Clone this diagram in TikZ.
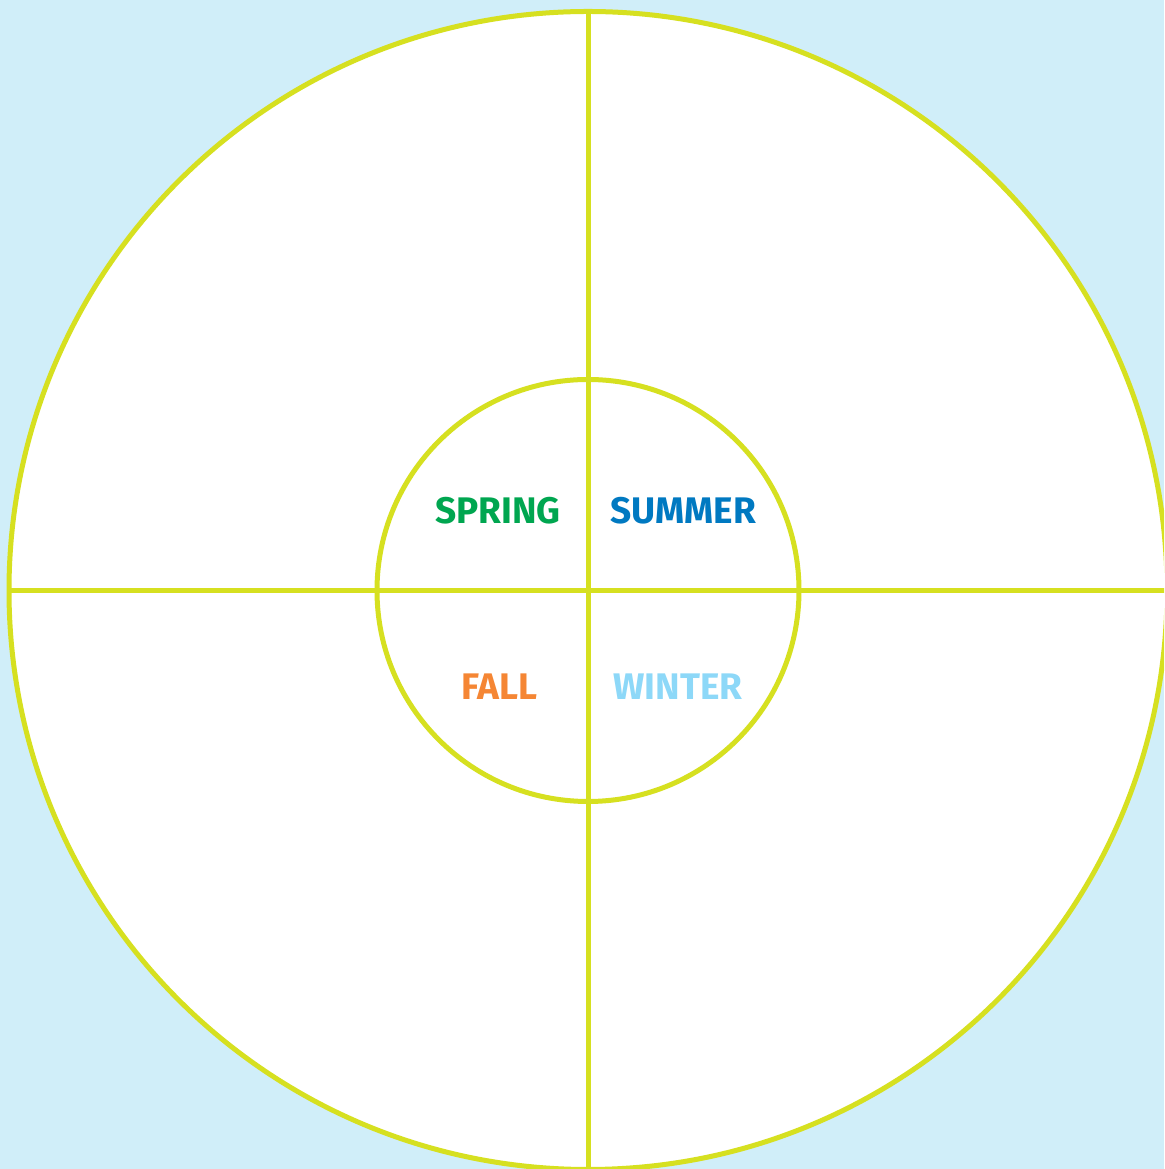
\documentclass[tikz,border=0pt]{standalone}
\usepackage{fontspec}
\setmainfont{Fira Sans}
\definecolor{bgblue}{RGB}{208,238,249}
\definecolor{ringline}{RGB}{214,224,32}
\definecolor{springc}{RGB}{0,166,80}
\definecolor{summerc}{RGB}{0,121,193}
\definecolor{fallc}{RGB}{245,134,52}
\definecolor{winterc}{RGB}{141,216,248}
\begin{document}
\begin{tikzpicture}[x=1pt,y=1pt,
  ring/.style={draw=ringline,line width=5pt},
  season/.style={font=\fontsize{37}{40}\selectfont\bfseries,inner sep=0pt,anchor=base}]
\useasboundingbox (0,0) rectangle (1164,1169);
\fill[bgblue] (0,0) rectangle (1164,1169);
\clip (0,0) rectangle (1164,1169);
\coordinate (c) at (588,578.5);
\fill[white] (c) circle (579);
\coordinate (top) at (588,1157.5);
\coordinate (bot) at (588,0);
\coordinate (lft) at (9,578.5);
\coordinate (rgt) at (1170,578.5);
\draw[ring] (top) -- (bot);
\draw[ring] (lft) -- (rgt);
\draw[ring] (c) circle (579);
\draw[ring] (c) circle (211);
\node[season,text=springc] (spring) at (498,645) {SPRING};
\node[season,text=summerc] (summer) at (683,645) {SUMMER};
\node[season,text=fallc] (fall) at (499,469) {FALL};
\node[season,text=winterc] (winter) at (678,469) {WINTER};
\end{tikzpicture}
\end{document}
